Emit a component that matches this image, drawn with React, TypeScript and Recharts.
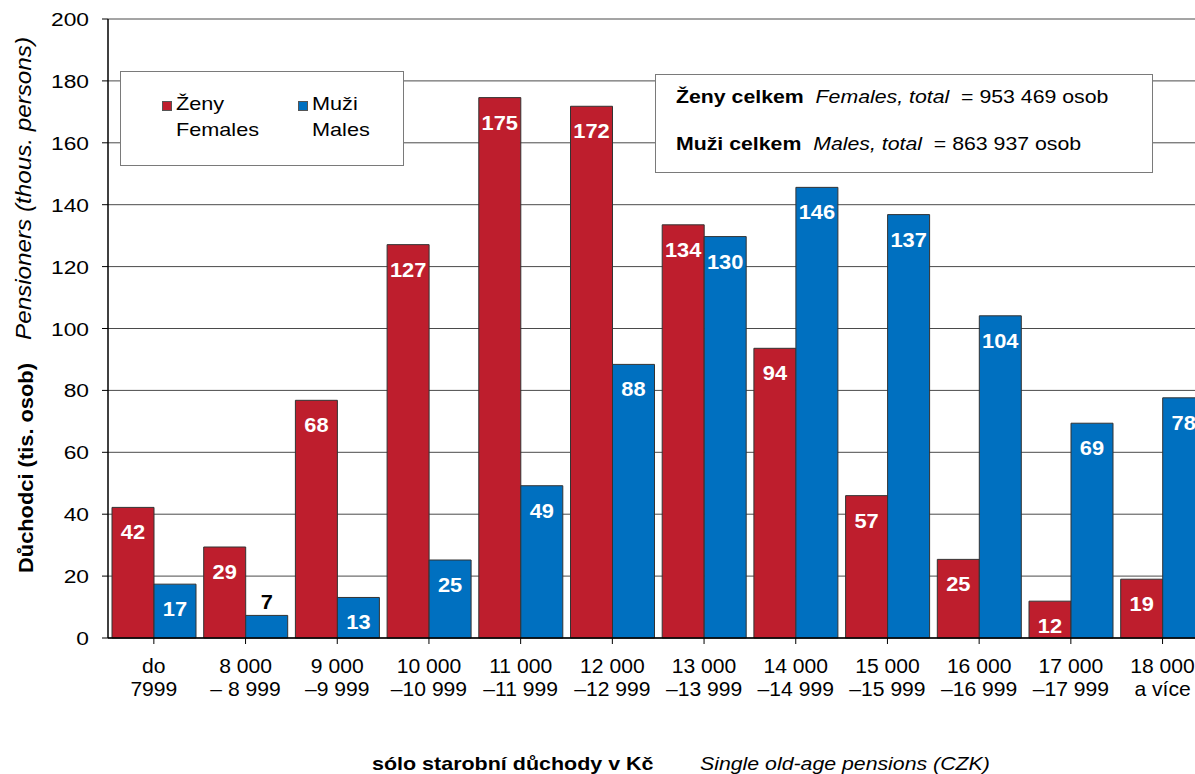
import React from 'react';
import { BarChart, Bar, XAxis, YAxis, CartesianGrid, LabelList } from 'recharts';

const rangeTop = ['do', '8 000', '9 000', '10 000', '11 000', '12 000', '13 000', '14 000', '15 000', '16 000', '17 000', '18 000'];
const rangeBottom = ['7999', '– 8 999', '–9 999', '–10 999', '–11 999', '–12 999', '–13 999', '–14 999', '–15 999', '–16 999', '–17 999', 'a více'];
const females = [42.2, 29.4, 76.8, 127.1, 174.6, 171.8, 133.5, 93.6, 46.0, 25.4, 11.9, 19.0];
const males = [17.4, 7.3, 13.1, 25.2, 49.2, 88.4, 129.7, 145.6, 136.8, 104.1, 69.4, 77.6];
const femaleLabels = [42, 29, 68, 127, 175, 172, 134, 94, 57, 25, 12, 19];
const maleLabels = [17, 7, 13, 25, 49, 88, 130, 146, 137, 104, 69, 78];
const yTicks = [0, 20, 40, 60, 80, 100, 120, 140, 160, 180, 200];
const boundaryTicks = [1, 2, 3, 4, 5, 6, 7, 8, 9, 10, 11];

const data = rangeTop.map((t, i) => ({
  name: String(i), top: t, bottom: rangeBottom[i],
  f: females[i], m: males[i], fl: femaleLabels[i], ml: maleLabels[i],
}));

const FONT = '"Liberation Sans", Arial, sans-serif';
const RED = '#BE1E2D';
const BLUE = '#0070C0';

const XTick = (props: any) => {
  const { x, y, payload } = props;
  const d = data[Number(payload.value)];
  return (
    <g>
      <text transform={`translate(${x},${y + 27}) scale(1.03,1)`} textAnchor="middle" fontSize={20.5} fill="#000" fontFamily={FONT}>{d.top}</text>
      <text transform={`translate(${x},${y + 50}) scale(1.03,1)`} textAnchor="middle" fontSize={20.5} fill="#000" fontFamily={FONT}>{d.bottom}</text>
    </g>
  );
};

const YTick = (props: any) => {
  const { x, y, payload } = props;
  return (
    <text transform={`translate(${x},${y + 7}) scale(1.2,1)`} textAnchor="end" fontSize={19} fill="#000" fontFamily={FONT}>{payload.value}</text>
  );
};

const BarLabel = (props: any) => {
  const { x, y, width, value } = props;
  const v = Number(value);
  const cx = x + width / 2;
  if (v < 10) {
    return <text transform={`translate(${cx},${y - 6}) scale(1.12,1)`} textAnchor="middle" fontSize={19.5} fontWeight="bold" fill="#000" fontFamily={FONT}>{v}</text>;
  }
  return <text transform={`translate(${cx},${y + 32}) scale(1.12,1)`} textAnchor="middle" fontSize={19.5} fontWeight="bold" fill="#fff" fontFamily={FONT}>{v}</text>;
};

const YTitle = () => (
  <g>
    <text transform="translate(33,573) rotate(-90)" textAnchor="start" fontSize={20.5} fontWeight="bold" fill="#000" fontFamily={FONT} textLength={210} lengthAdjust="spacingAndGlyphs">Důchodci (tis. osob)</text>
    <text transform="translate(31,340) rotate(-90)" textAnchor="start" fontSize={22} fontStyle="italic" fill="#000" fontFamily={FONT} textLength={303} lengthAdjust="spacingAndGlyphs">Pensioners (thous. persons)</text>
  </g>
);

const sx = (k: number) => ({ display: 'inline-block', transform: `scaleX(${k})`, transformOrigin: 'left center', whiteSpace: 'pre' as const });

export default function App() {
  return (
    <div style={{ position: 'absolute', left: 0, top: 0, width: 1195, height: 774, overflow: 'hidden', background: '#fff', fontFamily: FONT }}>
      <BarChart
        width={1230}
        height={774}
        data={data}
        margin={{ top: 19, right: 21.6, bottom: 0, left: 0 }}
        barCategoryGap={4}
        barGap={0}
      >
        <CartesianGrid vertical={false} stroke="#4a4a4a" strokeWidth={1} />
        <XAxis
          xAxisId="minor"
          type="number"
          domain={[0, 12]}
          ticks={boundaryTicks}
          interval={0}
          height={0}
          tick={false}
          tickSize={-5}
          axisLine={false}
          tickLine={{ stroke: '#777' }}
        />
        <XAxis
          dataKey="name"
          height={136}
          interval={0}
          tick={<XTick />}
          tickSize={6}
          axisLine={{ stroke: '#000', strokeWidth: 1.5 }}
          tickLine={{ stroke: '#000' }}
        />
        <YAxis
          width={108}
          domain={[0, 200]}
          ticks={yTicks}
          interval={0}
          tick={<YTick />}
          tickSize={6}
          tickMargin={13}
          axisLine={{ stroke: '#000', strokeWidth: 1.5 }}
          tickLine={{ stroke: '#000' }}
          label={<YTitle />}
        />
        <Bar dataKey="f" fill={RED} stroke="#333" strokeWidth={1} isAnimationActive={false}>
          <LabelList dataKey="fl" content={<BarLabel />} />
        </Bar>
        <Bar dataKey="m" fill={BLUE} stroke="#333" strokeWidth={1} isAnimationActive={false}>
          <LabelList dataKey="ml" content={<BarLabel />} />
        </Bar>
      </BarChart>

      <div style={{ position: 'absolute', left: 120, top: 71, width: 282, height: 93, border: '1px solid #7a7a7a', background: '#fff', fontSize: 19, lineHeight: '26px', color: '#000' }}>
        <div style={{ position: 'absolute', left: 41, top: 29, width: 10, height: 10, background: RED, border: '1px solid #555', boxSizing: 'border-box' }} />
        <div style={{ position: 'absolute', left: 55, top: 19 }}><span style={sx(1.14)}>Ženy</span><br /><span style={sx(1.14)}>Females</span></div>
        <div style={{ position: 'absolute', left: 177, top: 29, width: 10, height: 10, background: BLUE, border: '1px solid #555', boxSizing: 'border-box' }} />
        <div style={{ position: 'absolute', left: 191, top: 19 }}><span style={sx(1.14)}>Muži</span><br /><span style={sx(1.14)}>Males</span></div>
      </div>

      <div style={{ position: 'absolute', left: 655, top: 74, width: 496, height: 97, border: '1px solid #7a7a7a', background: '#fff', fontSize: 19, color: '#000' }}>
        <div style={{ position: 'absolute', left: 20, top: 11 }}><span style={sx(1.12)}><b>Ženy celkem</b>  <i>Females, total</i>  = 953 469 osob</span></div>
        <div style={{ position: 'absolute', left: 20, top: 58 }}><span style={sx(1.12)}><b>Muži celkem</b>  <i>Males, total</i>  = 863 937 osob</span></div>
      </div>

      <div style={{ position: 'absolute', left: 372, top: 753, fontSize: 19, color: '#000' }}>
        <span style={sx(1.13)}><b>sólo starobní důchody v Kč</b></span>
      </div>
      <div style={{ position: 'absolute', left: 700, top: 753, fontSize: 19, color: '#000' }}>
        <span style={sx(1.12)}><i>Single old-age pensions (CZK)</i></span>
      </div>
    </div>
  );
}
